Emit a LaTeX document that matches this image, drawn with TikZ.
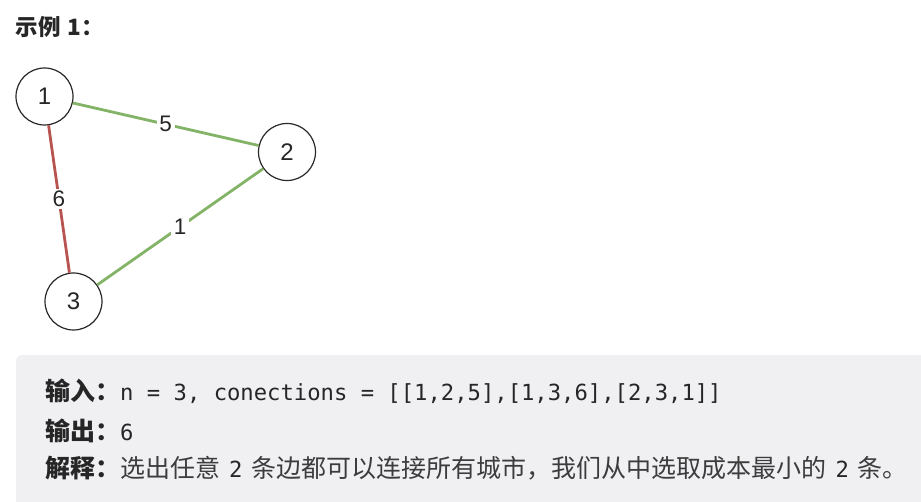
\documentclass[tikz,border=0pt]{standalone}
\usepackage{fontspec}
\setmainfont{Liberation Sans}
\newfontfamily\cjk{Noto Sans CJK SC}
\newfontfamily\mono{DejaVu Sans Mono}
\definecolor{edgegreen}{RGB}{130,179,102}
\definecolor{edgered}{RGB}{184,84,80}
\definecolor{boxbg}{RGB}{240,240,243}
\definecolor{txt}{RGB}{38,38,38}
\definecolor{txtlight}{RGB}{60,60,60}
\definecolor{circ}{RGB}{40,40,40}
\tikzset{
  city/.style={circle, draw=circ, line width=1.2pt, minimum size=57pt, inner sep=0pt,
    font=\fontsize{24}{28}\selectfont, text=txt},
  road/.style={line width=2.8pt},
  cost/.style={fill=white, inner sep=2.5pt, font=\fontsize{22.5}{26}\selectfont, text=txt},
  line/.style={anchor=base west, inner sep=0pt, text=txt},
}
\newcommand{\cjkfont}{\cjk\fontsize{25}{30}\selectfont}
\newcommand{\monofont}{\mono\fontsize{22.2}{26}\selectfont}
\begin{document}
\begin{tikzpicture}[x=1pt,y=-1pt]
\useasboundingbox (0,0) rectangle (921,502);
% title
\node[anchor=base west, inner sep=0pt, text=txt] (title) at (15.5,35.5)
  {\cjk\bfseries\fontsize{22.5}{26}\selectfont 示例\hspace{7pt}1：};
% graph
\node[city] (n1) at (44.5,96.5) {1};
\node[city] (n2) at (287,152) {2};
\node[city] (n3) at (73.5,301.5) {3};
\draw[road, edgegreen] (n1) -- node[cost] (c5) {5} (n2);
\draw[road, edgered] (n1) -- node[cost] (c6) {6} (n3);
\draw[road, edgegreen] (n2) -- node[cost] (c1) {1} (n3);
% example box
\fill[boxbg, rounded corners=6pt] (16,355) rectangle (940,520);
\node[line] (l1) at (45,401)
  {{\cjkfont\bfseries 输入：}{\monofont n = 3, conections = [[1,2,5],[1,3,6],[2,3,1]]}};
\node[line] (l2) at (45,440)
  {{\cjkfont\bfseries 输出：}{\monofont 6}};
\node[line] (l3) at (45,477)
  {{\cjkfont\bfseries 解释：}{\cjkfont\color{txtlight}选出任意}\hspace{9pt}{\monofont 2}\hspace{9pt}{\cjkfont\color{txtlight}条边都可以连接所有城市，我们从中选取成本最小的}\hspace{9pt}{\monofont 2}\hspace{9pt}{\cjkfont\color{txtlight}条。}};
\end{tikzpicture}
\end{document}
